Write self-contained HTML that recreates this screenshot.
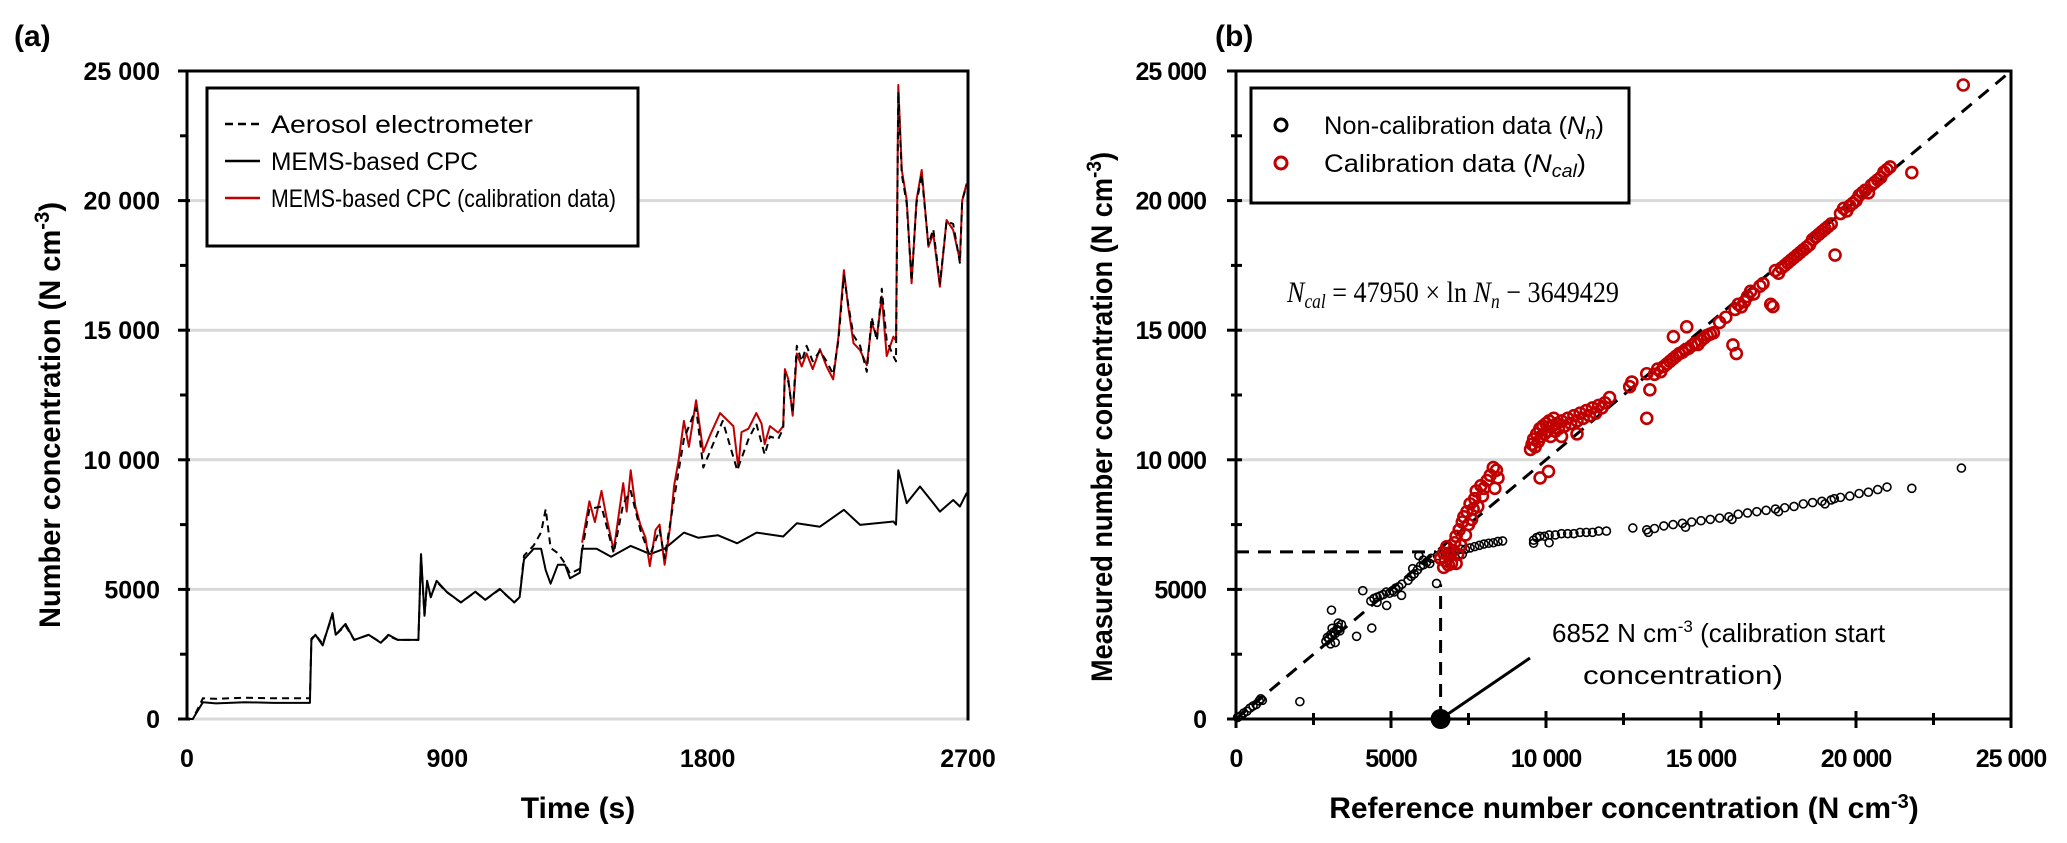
<!DOCTYPE html>
<html><head><meta charset="utf-8"><title>MEMS CPC charts</title>
<style>
html,body{margin:0;padding:0;background:#fff;}
svg{display:block;font-family:"Liberation Sans",Arial,sans-serif;}
.tick{font-size:25px;font-weight:bold;fill:#000;}
.ttl{font-size:30px;font-weight:bold;fill:#000;}
.leg{font-size:25px;fill:#000;}
</style></head>
<body>
<svg id="chart" width="2067" height="843" viewBox="0 0 2067 843" xmlns="http://www.w3.org/2000/svg">
  <text x="14" y="46" class="ttl" font-size="28">(a)</text>
  <text x="1215" y="46" class="ttl" font-size="28">(b)</text>
  <g id="gridA"></g>
  <g id="gridB"></g>
  <g id="seriesA"></g>
  <g id="seriesB"></g>
  <g id="axesA"></g>
  <g id="axesB"></g>

  <text class="ttl" font-size="32" transform="translate(60,415) rotate(-90)" text-anchor="middle" textLength="426" lengthAdjust="spacingAndGlyphs">Number concentration (N cm<tspan font-size="21" dy="-11">-3</tspan><tspan dy="11">)</tspan></text>
  <text class="ttl" x="578" y="818" text-anchor="middle">Time (s)</text>
  <text class="ttl" font-size="32" transform="translate(1112,417) rotate(-90)" text-anchor="middle" textLength="530" lengthAdjust="spacingAndGlyphs">Measured number concentration (N cm<tspan font-size="21" dy="-11">-3</tspan><tspan dy="11">)</tspan></text>
  <text class="ttl" x="1624" y="818" text-anchor="middle">Reference number concentration (N cm<tspan font-size="20" dy="-10">-3</tspan><tspan dy="10">)</tspan></text>

  <g>
    <rect x="207" y="88" width="431" height="158" fill="#fff" stroke="#000" stroke-width="3"/>
    <line x1="225" y1="124" x2="260" y2="124" stroke="#000" stroke-width="2.5" stroke-dasharray="8,5"/>
    <text class="leg" x="271" y="133" textLength="262" lengthAdjust="spacingAndGlyphs">Aerosol electrometer</text>
    <line x1="225" y1="161" x2="260" y2="161" stroke="#000" stroke-width="2.5"/>
    <text class="leg" x="271" y="170" textLength="207" lengthAdjust="spacingAndGlyphs">MEMS-based CPC</text>
    <line x1="225" y1="198" x2="260" y2="198" stroke="#c00000" stroke-width="2.5"/>
    <text class="leg" x="271" y="207" textLength="345" lengthAdjust="spacingAndGlyphs">MEMS-based CPC (calibration data)</text>
  </g>

  <g>
    <rect x="1251" y="88" width="378" height="115" fill="#fff" stroke="#000" stroke-width="3"/>
    <circle cx="1281" cy="125" r="6" fill="none" stroke="#000" stroke-width="3"/>
    <text class="leg" x="1324" y="134" textLength="280" lengthAdjust="spacingAndGlyphs">Non-calibration data (<tspan font-style="italic">N<tspan font-size="18" dy="5">n</tspan></tspan><tspan dy="-5">)</tspan></text>
    <circle cx="1281" cy="163" r="6" fill="none" stroke="#c00000" stroke-width="3"/>
    <text class="leg" x="1324" y="172" textLength="262" lengthAdjust="spacingAndGlyphs">Calibration data (<tspan font-style="italic">N<tspan font-size="18" dy="5">cal</tspan></tspan><tspan dy="-5">)</tspan></text>
  </g>

  <text x="1287" y="302" font-family="'Liberation Serif',serif" font-size="30" fill="#000" textLength="332" lengthAdjust="spacingAndGlyphs"><tspan font-style="italic">N</tspan><tspan font-style="italic" font-size="20" dy="6">cal</tspan><tspan dy="-6"> = 47950 × ln </tspan><tspan font-style="italic">N</tspan><tspan font-style="italic" font-size="20" dy="6">n</tspan><tspan dy="-6"> − 3649429</tspan></text>

  <g>
    <text x="1552" y="642" font-size="26" fill="#000">6852 N cm<tspan font-size="17" dy="-10">-3</tspan><tspan dy="10"> (calibration start</tspan></text>
    <text x="1583" y="684" font-size="26" fill="#000" textLength="200" lengthAdjust="spacingAndGlyphs">concentration)</text>
  </g>
</svg>
<script>
// ---------- Panel (a) data ----------
const aeTime = [0,20,55,100,200,300,400,425,430,444,469,503,514,548,578,628,670,696,729,779,800,809,821,830,843,863,897,947,997,1031,1081,1131,1150,1165,1199,1224,1240,1257,1282,1307,1324,1358,1366,1391,1433,1475,1508,1534,1567,1600,1634,1651,1684,1718,1760,1785,1852,1902,1941,1968,1997,2015,2044,2061,2067,2079,2094,2108,2125,2142,2163,2188,2211,2234,2252,2271,2286,2304,2327,2350,2367,2385,2402,2419,2442,2451,2459,2471,2488,2505,2522,2540,2563,2580,2603,2626,2649,2672,2680,2695];
const aeValues = [0,0,800,780,820,800,800,800,3100,3250,2900,4000,3250,3600,3050,3250,2950,3200,3050,3050,3050,6300,4000,5300,4700,5300,4900,4500,4900,4600,5000,4500,4700,6300,6700,7200,8100,6600,6400,6000,5600,5800,6500,8100,8200,6400,8300,8800,7300,6300,7300,6200,8500,10800,12000,9700,11500,9600,10800,11400,10200,10900,10800,11200,13300,13000,11800,14400,13800,14400,13800,14200,13800,13300,14600,17100,16000,14800,14400,13400,15500,14600,16600,14600,14000,13800,24200,21000,19900,16900,19900,21000,18300,18900,16800,19200,19100,17600,20000,20600];
const memsTime = [0,20,55,100,200,300,400,425,430,444,469,503,514,548,578,628,670,696,729,779,800,809,821,830,843,863,897,947,997,1031,1081,1131,1150,1165,1199,1224,1240,1257,1282,1307,1324,1358,1366,1416,1466,1534,1601,1651,1718,1768,1835,1902,1969,2061,2108,2188,2271,2327,2442,2451,2459,2488,2534,2580,2603,2649,2672,2695,2700];
const memsValues = [0,0,650,600,650,620,620,620,3050,3250,2840,4080,3250,3670,3050,3250,2940,3250,3050,3050,3050,6360,3980,5330,4700,5330,4910,4500,4910,4600,5020,4500,4700,6160,6570,6570,5740,5220,5950,5950,5430,5640,6570,6570,6260,6680,6360,6570,7190,6990,7090,6780,7190,7040,7550,7420,8070,7490,7620,7500,9600,8330,8970,8330,8000,8450,8200,8710,8700];
const calTime = [1366,1391,1410,1433,1450,1475,1508,1520,1534,1550,1567,1585,1600,1620,1634,1651,1670,1684,1700,1718,1735,1760,1785,1810,1843,1889,1906,1917,1941,1968,1986,1997,2015,2044,2061,2067,2079,2094,2108,2125,2142,2163,2188,2211,2234,2252,2271,2286,2304,2327,2350,2367,2385,2402,2419,2442,2451,2459,2471,2488,2505,2522,2540,2563,2580,2603,2626,2649,2672,2680,2695];
const calValues = [6800,8400,7600,8800,7800,6500,9100,8000,9600,8200,7500,7000,5900,7300,7500,5950,7400,9000,10000,11500,10500,12300,10300,11000,11800,11300,9700,11070,11200,11800,11400,10600,11300,11050,11300,13500,13100,11700,14100,13600,14100,13500,14270,13600,13100,14750,17320,15900,14500,14230,13650,15270,14750,16300,14000,14750,14600,24460,21180,20020,16810,20020,21180,18220,18730,16680,19250,18860,17700,20000,20660];
const timeTicks = [0,900,1800,2700];
const concTicks = [0,5000,10000,15000,20000,25000];
const concTickLabels = ["0","5000","10 000","15 000","20 000","25 000"];

// ---------- Panel (b) data: [reference, measured] ----------
const nonCalPoints = [[50,60],[150,120],[250,230],[350,300],[450,420],[550,500],[650,560],[750,700],[800,780],[850,720],[2060,670],
[2900,3000],[2950,3150],[3000,3100],[3050,3250],[3100,3200],[3150,3350],[3200,3300],[3250,3450],[3100,3500],[3300,3550],[3350,3400],[3050,2900],[3200,2950],[3300,3700],[3400,3650],[3080,4200],[3890,3190],[4380,3510],[4090,4950],
[4350,4550],[4450,4650],[4550,4700],[4650,4750],[4750,4800],[4850,4900],[4950,4850],[5050,4950],[5150,5050],[5250,5100],[5350,5200],[4550,4500],[4860,4380],[5340,4770],[5100,4900],
[5550,5350],[5650,5500],[5750,5600],[5850,5750],[5950,5900],[6050,5950],[6150,6050],[6250,6000],[5700,5800],[6040,6130],[5900,6300],[6470,5230],[6300,6200],
[6500,6300],[6650,6350],[6800,6400],[6950,6450],[7100,6480],[7250,6550],[7400,6550],[7550,6600],[7700,6650],[7850,6700],[8000,6750],[8150,6780],[8300,6800],[8450,6850],[8600,6870],[7300,6350],[7050,6550],
[9600,6900],[9700,7000],[9800,7050],[9950,7050],[10100,7100],[10300,7100],[10500,7150],[10700,7150],[10900,7150],[11100,7200],[11300,7200],[11500,7200],[11700,7250],[11950,7250],[9600,6780],[10100,6800],[12800,7370],[13250,7300],
[13500,7350],[13800,7450],[14100,7500],[14400,7550],[14700,7600],[15000,7650],[15300,7700],[15600,7750],[15900,7800],[16200,7900],[16500,7950],[16800,8000],[17100,8050],[17400,8100],[17700,8150],[18000,8200],[18300,8300],[18600,8350],[18900,8400],[19200,8450],[19500,8550],[19800,8600],[20100,8700],[20400,8750],[20700,8850],[21000,8950],[21800,8900],[23400,9680],[13300,7200],[14500,7400],[16000,7700],[17500,8000],[19000,8300],[19300,8500]];
const calPoints = [[6700,5850],[6750,6100],[6700,6400],[6800,6650],[6900,6300],[6950,6000],[7000,6500],[7050,6800],[7100,7050],[7150,6350],[7200,7300],[7250,6700],[7300,7600],[7350,7800],[7400,7100],[7450,8000],[7500,7500],[7550,8300],[7600,7700],[7650,8100],[7700,8500],[7750,8800],[7800,8200],[7900,9000],[7950,8600],[8000,8900],[8100,9200],[8200,9400],[8300,9700],[8400,9600],[8450,9300],[8350,8900],[6600,6200],[6850,5950],[7100,6000],
[9810,9300],[10080,9550],
[9500,10400],[9550,10600],[9600,10800],[9650,10500],[9700,11000],[9750,10700],[9800,11200],[9850,10900],[9900,11300],[9950,11000],[10000,11400],[10050,11100],[10100,11500],[10150,10900],[10200,11300],[10250,11600],[10300,11100],[10350,11400],[10400,11200],[10500,11500],[10600,11300],[10700,11600],[10800,11400],[10900,11700],[11000,11500],[11100,11800],[11200,11600],[11300,11900],[11400,11700],[11500,12000],[11600,11800],[11700,12100],[11800,12000],[11900,12200],[12050,12400],[10500,10900],[11000,11000],
[12770,13000],[12700,12820],[13250,13320],[13250,11600],[13350,12700],
[13500,13300],[13600,13500],[13700,13400],[13800,13600],[13900,13700],[14000,13800],[14100,13900],[14200,14000],[14300,14100],[14400,14150],[14500,14250],[14600,14300],[14700,14400],[14800,14500],[14900,14450],[15000,14600],[15100,14700],[15200,14800],[15300,14850],[15400,14900],[14110,14750],[14540,15130],[16030,14430],[16140,14100],
[15600,15300],[15800,15500],[16100,15800],[16200,16000],[16300,15900],[16400,16100],[16500,16300],[16600,16500],[16700,16400],[16900,16700],[17000,16800],[17320,15910],[17250,16000],
[17400,17300],[17500,17200],[17600,17400],[17700,17500],[17800,17600],[17900,17700],[18000,17800],[18100,17900],[18200,18000],[18300,18100],[18400,18200],[18500,18300],[18600,18500],[18700,18600],[18800,18700],[18900,18800],[19000,18900],[19100,19000],[19200,19100],[19324,17900],
[19500,19500],[19600,19700],[19700,19600],[19800,19800],[19900,19900],[20000,20000],[20100,20200],[20200,20300],[20300,20400],[20400,20300],[20500,20600],[20600,20700],[20700,20800],[20800,20900],[20900,21100],[21000,21200],[21100,21300],[21800,21080],[23460,24460]];
const refTicks = [0,5000,10000,15000,20000,25000];
const refTickLabels = ["0","5000","10 000","15 000","20 000","25 000"];
const calStart = 6600;
const calStartMeasured = 6450;
const calVerticalTop = 5200;

const NS = "http://www.w3.org/2000/svg";
function mk(tag, attrs, parent){const e=document.createElementNS(NS,tag);for(const k in attrs)e.setAttribute(k,attrs[k]);parent.appendChild(e);return e;}

// axis functions
const aX = t => 187 + t/2700*781;
const yV = v => 719 - v/25000*648;
const bX = v => 1236 + v/25000*775;

const gridA=document.getElementById('gridA'), gridB=document.getElementById('gridB');
const axesA=document.getElementById('axesA'), axesB=document.getElementById('axesB');
const seriesA=document.getElementById('seriesA'), seriesB=document.getElementById('seriesB');

// gridlines
concTicks.forEach(v=>{
  const g1=mk('line',{x1:aX(0),x2:aX(2700),y1:yV(v),y2:yV(v),stroke:'#d9d9d9','stroke-width':3},gridA);
  
  
  if(v>0&&v<25000){
    const g2=mk('line',{x1:bX(0),x2:bX(25000),y1:yV(v),y2:yV(v),stroke:'#d9d9d9','stroke-width':3},gridB);
    
    
  }
});

// panel a series
function poly(ts, vs, color, dash, name){
  const n=Math.min(ts.length,vs.length);
  let pts=[];for(let i=0;i<n;i++)pts.push(aX(ts[i]).toFixed(1)+','+yV(vs[i]).toFixed(1));
  const p=mk('polyline',{points:pts.join(' '),fill:'none',stroke:color,'stroke-width':2,'stroke-linejoin':'round'},seriesA);
  if(dash)p.setAttribute('stroke-dasharray',dash);
  
  
}
poly(memsTime,memsValues,'#000',null,'mems-cpc-line');
poly(calTime,calValues,'#c00000',null,'mems-cpc-calibration-line');
poly(aeTime,aeValues,'#000','7,5','aerosol-electrometer-line');

// panel a axes
[[187,71,968,71],[187,71,187,719],[968,71,968,719]].forEach(s=>{
  const l=mk('line',{x1:s[0],y1:s[1],x2:s[2],y2:s[3],stroke:'#000','stroke-width':3,'stroke-linecap':'square'},axesA);
  
  
});
for(let v=0;v<=25000;v+=2500){
  const major=v%5000===0;
  mk('line',{x1:major?178:180,x2:major?190:187,y1:yV(v),y2:yV(v),stroke:'#000','stroke-width':3},axesA);
}
concTicks.forEach((v,i)=>{
  const t=mk('text',{x:160,y:yV(v)+9,'text-anchor':'end',class:'tick'},axesA);
  t.textContent=concTickLabels[i];
  
  
});
timeTicks.forEach(t0=>{
  const t=mk('text',{x:aX(t0),y:767,'text-anchor':'middle',class:'tick'},axesA);
  t.textContent=String(t0);
  
  
});

// panel b reference lines
const diag=mk('line',{x1:bX(0),y1:yV(0),x2:bX(25000),y2:yV(25000),stroke:'#000','stroke-width':3,'stroke-dasharray':'13,9'},seriesB);


const hg=mk('line',{x1:bX(0),y1:yV(calStartMeasured),x2:bX(calStartMeasured),y2:yV(calStartMeasured),stroke:'#000','stroke-width':3,'stroke-dasharray':'13,9'},seriesB);


const vg=mk('line',{x1:bX(calStart),y1:yV(0),x2:bX(calStart),y2:yV(calVerticalTop),stroke:'#000','stroke-width':3,'stroke-dasharray':'13,9'},seriesB);



// scatter
nonCalPoints.forEach(p=>{
  const c=mk('circle',{cx:bX(p[0]),cy:yV(p[1]),r:4,fill:'none',stroke:'#000','stroke-width':1.6},seriesB);
  
  
});
calPoints.forEach(p=>{
  const c=mk('circle',{cx:bX(p[0]),cy:yV(p[1]),r:5.5,fill:'none',stroke:'#c00000','stroke-width':2.6},seriesB);
  
  
});

// panel b axes
const box=mk('rect',{x:1236,y:71,width:775,height:648,fill:'none',stroke:'#000','stroke-width':3},axesB);


for(let v=0;v<=25000;v+=2500){
  const major=v%5000===0;
  mk('line',{x1:major?1227:1231,x2:1242,y1:yV(v),y2:yV(v),stroke:'#000','stroke-width':3},axesB);
  mk('line',{x1:bX(v),x2:bX(v),y1:major?711:713,y2:major?728:725,stroke:'#000','stroke-width':3},axesB);
}
concTicks.forEach((v,i)=>{
  const t=mk('text',{x:1206,y:yV(v)+9,'text-anchor':'end',class:'tick','letter-spacing':'-1'},axesB);
  t.textContent=concTickLabels[i];
  
  
});
refTicks.forEach((v,i)=>{
  const t=mk('text',{x:bX(v),y:767,'text-anchor':'middle',class:'tick','letter-spacing':'-1'},axesB);
  t.textContent=refTickLabels[i];
  
  
});
// calibration start marker + leader
const ld=mk('line',{x1:bX(calStart),y1:yV(0),x2:1530,y2:658,stroke:'#000','stroke-width':3},axesB);


const dot=mk('circle',{cx:bX(calStart),cy:yV(0),r:10,fill:'#000'},axesB);


</script>
</body></html>
